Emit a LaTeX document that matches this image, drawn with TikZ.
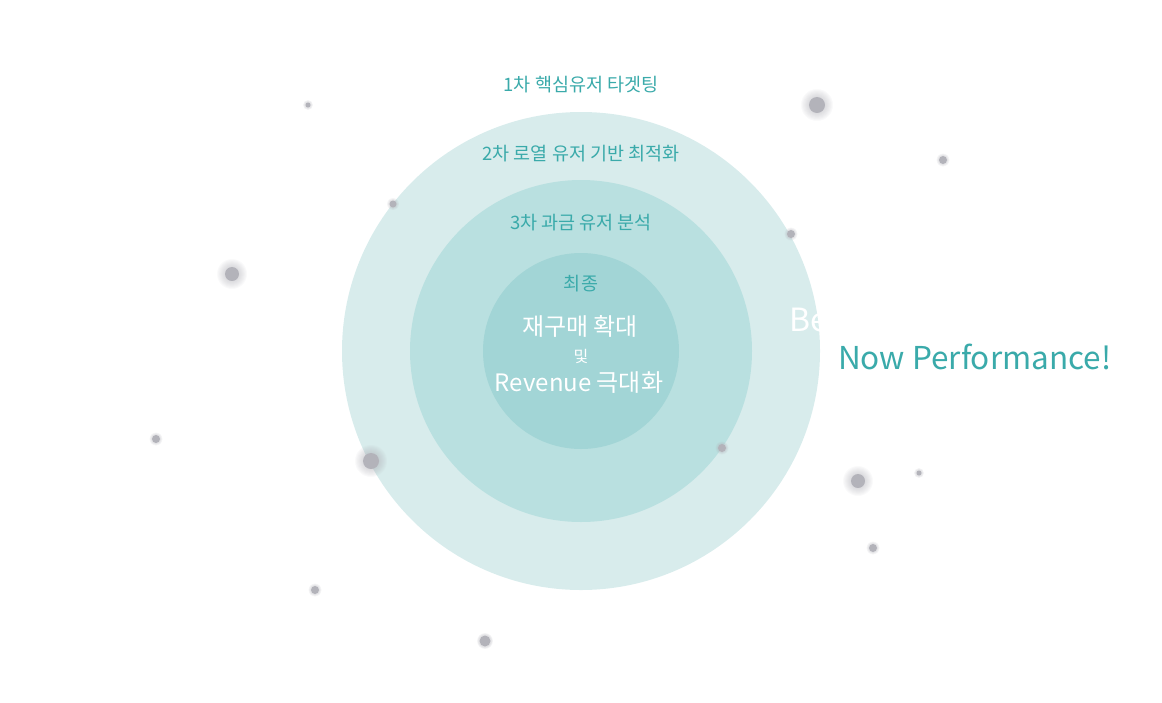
\documentclass[tikz,border=0pt]{standalone}
\usepackage{fontspec}
\setmainfont{Noto Sans CJK KR}
\usepackage{tikz}

\definecolor{ringA}{HTML}{D8ECEC}
\definecolor{ringB}{HTML}{B9E0E0}
\definecolor{ringC}{HTML}{A2D5D6}
\definecolor{tealtext}{HTML}{3AAAAA}
\definecolor{dotgray}{HTML}{B3B3BA}

\tikzset{
  steptext/.style={text=tealtext, font=\fontsize{18.5}{20}\selectfont, inner sep=0pt},
  goaltext/.style={text=white, font=\fontsize{24}{26}\selectfont, inner sep=0pt},
}

\begin{document}
\begin{tikzpicture}[x=1pt, y=-1pt]
\useasboundingbox (0,0) rectangle (1162,702);

% rings
\fill[ringA] (581,351) circle (239);
\fill[ringB] (581,351) circle (171);
\fill[ringC] (581,351) circle (98);

% soft dots
\foreach \px/\py/\pr in {308/105/2.5, 393/204/3.5, 943/160/4, 791/234/4, 156/439/4,
                         722/448/4, 919/473/2.5, 873/548/4, 315/590/4, 485/641/5.5}
{
  \foreach \k in {1,2,3}
    \fill[dotgray, opacity=0.15] (\px,\py) circle ({\pr+0.8*\k});
  \fill[dotgray] (\px,\py) circle (\pr);
}
% glowing dots
\foreach \px/\py/\pr in {817/105/8, 232/274/7, 371/461/8, 858/481/7}
{
  \foreach \k in {1,...,8}
    \fill[dotgray, opacity=0.07] (\px,\py) circle ({\pr+\k});
  \fill[dotgray] (\px,\py) circle (\pr);
}

\node[steptext] (first) at (581,85) {1차 핵심유저 타겟팅};
\node[steptext] (second) at (581,154) {2차 로열 유저 기반 최적화};
\node[steptext] (third) at (581,223) {3차 과금 유저 분석};
\node[steptext] (final) at (581,284) {최종};

\node[goaltext] (rebuy) at (580,326) {재구매 확대};
\node[goaltext, font=\fontsize{16}{18}\selectfont] (and) at (581,356) {및};
\node[goaltext] (revenue) at (579,383) {Revenue 극대화};

\node[text=white, font=\fontsize{32}{34}\selectfont, inner sep=0pt, anchor=west] (be) at (789,320) {Be};
\node[text=tealtext, font=\fontsize{31.5}{33}\selectfont, inner sep=0pt, anchor=west] (now) at (838,357) {Now Performance!};

\end{tikzpicture}
\end{document}
